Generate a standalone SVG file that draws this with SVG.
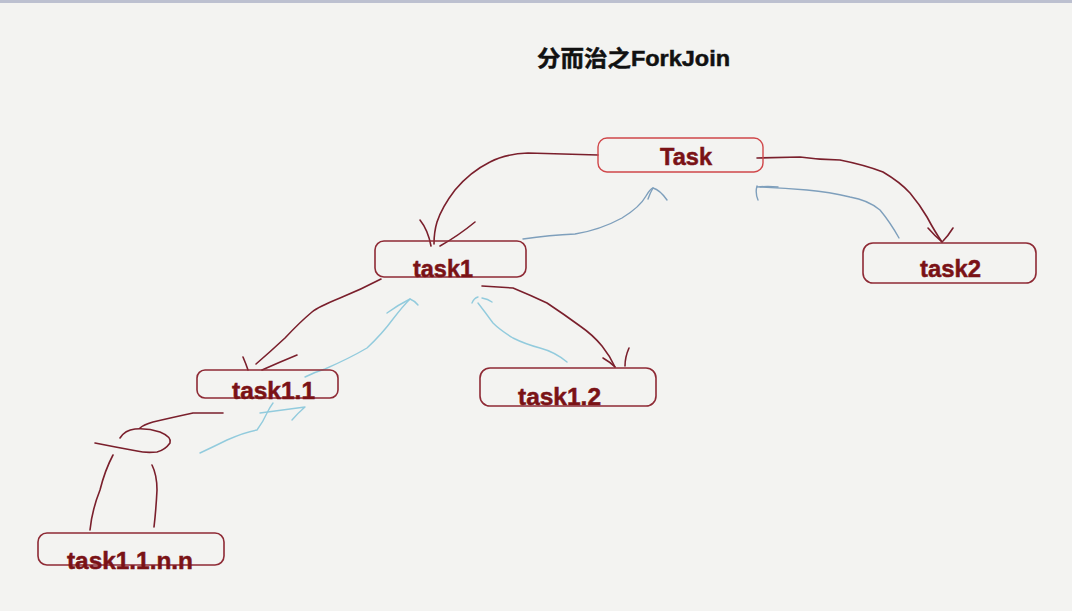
<svg xmlns="http://www.w3.org/2000/svg" width="1072" height="611" viewBox="0 0 1072 611">
<style>
.box{fill:none;stroke:#8e2a35;stroke-width:1.6}
.boxr{fill:none;stroke:#d0474a;stroke-width:1.4}
.lbl{font-family:"Liberation Sans",Arial,sans-serif;font-weight:bold;font-size:24px;fill:#7a1216;stroke:#7a1216;stroke-width:0.5}
.red{fill:none;stroke:#7a1f2c;stroke-width:1.6;stroke-linecap:round;stroke-linejoin:round}
.blu{fill:none;stroke:#7e9fbc;stroke-width:1.4;stroke-linecap:round;stroke-linejoin:round}
.cy{fill:none;stroke:#92cbdd;stroke-width:1.4;stroke-linecap:round;stroke-linejoin:round}
</style>
<rect width="1072" height="611" fill="#f3f3f1"/>
<rect width="1072" height="3" fill="#bcc0d0"/>
<text x="537" y="66" textLength="193" lengthAdjust="spacingAndGlyphs" style="font-family:'Liberation Sans','Noto Sans CJK SC',sans-serif;font-weight:bold;font-size:22px;fill:#111;stroke:#111;stroke-width:0.5">分而治之ForkJoin</text>

<g id="connectors">
<!-- Task -> task1 -->
<path class="red" d="M598,155 L528,153 Q505,154 490,162 Q470,172 455,190 Q442,207 437,222 Q434,232 434,244"/>
<path class="red" d="M420,220 Q428,230 431,246 M475,222 Q458,236 440,246"/>
<!-- task1 -> Task (blue) -->
<path class="blu" d="M523,239 Q550,235 575,234 Q600,230 622,218 Q640,207 646,196 Q650,189 653,188"/>
<path class="blu" d="M653,188 Q660,190 667,200 M653,188 Q650,193 648,199"/>
<!-- Task -> task2 -->
<path class="red" d="M757,158 L800,157 Q820,160 840,160 Q865,165 883,172 Q900,182 910,193 Q920,205 927,217 Q935,232 942,242"/>
<path class="red" d="M928,228 Q935,236 942,242 M953,228 Q948,236 943,241"/>
<!-- task2 -> Task (blue) -->
<path class="blu" d="M899,238 Q890,222 880,210 Q868,200 850,197 Q830,192 807,190 Q785,188 760,187"/>
<path class="blu" d="M757,186 Q755,193 758,200 M757,187 Q768,186 778,187"/>
<!-- task1 -> task1.1 -->
<path class="red" d="M381,279 Q360,290 340,298 Q318,307 312,312 Q300,322 285,338 Q270,352 256,364"/>
<path class="red" d="M243,357 Q246,364 248,370 M297,355 Q280,362 262,370"/>
<!-- task1.1 -> task1 (cyan) -->
<path class="cy" d="M305,377 Q315,372 325,369 Q350,358 367,348 Q382,334 393,319 Q403,306 410,299"/>
<path class="cy" d="M410,299 Q398,305 387,313 M410,299 Q415,301 418,305"/>
<!-- task1 -> task1.2 -->
<path class="red" d="M482,286 L513,288 Q530,295 547,303 Q565,315 580,326 Q593,335 602,346 Q610,356 615,367"/>
<path class="red" d="M603,358 Q610,362 615,367 M629,348 Q625,357 625,366"/>
<!-- task1.2 -> task1 (cyan) -->
<path class="cy" d="M567,362 Q555,352 540,348 Q525,344 513,338 Q500,330 493,323 Q485,312 478,303"/>
<path class="cy" d="M472,303 Q474,298 478,297 M482,298 Q488,299 492,302"/>
<!-- task1.1 -> task1.1.n.n -->
<path class="red" d="M223,413 L193,413 Q170,418 153,422 Q143,425 140,428"/>
<path class="red" d="M120,438 Q125,430 135,429 Q148,428 160,432 Q172,437 170,443 Q165,450 157,452 Q145,453 137,451 Q115,447 95,443"/>
<path class="red" d="M113,455 Q105,470 100,490 Q92,510 90,530"/>
<path class="red" d="M152,465 Q157,475 157,490 Q156,510 154,527"/>
<!-- task1.1.n.n -> task1.1 (cyan) -->
<path class="cy" d="M200,453 Q215,446 227,440 Q245,432 257,430 Q263,422 267,413 Q270,407 273,403"/>
<path class="cy" d="M260,413 Q282,410 305,407 Q298,413 292,420"/>
</g>

<g id="node-Task">
<rect class="boxr" x="598" y="138" width="165" height="34" rx="9"/>
<text class="lbl" x="686" y="165" text-anchor="middle" textLength="52" lengthAdjust="spacingAndGlyphs">Task</text>
</g>
<g id="node-task1">
<rect class="box" x="375" y="241" width="151" height="36" rx="9"/>
<text class="lbl" x="413" y="277" textLength="60" lengthAdjust="spacingAndGlyphs">task1</text>
</g>
<g id="node-task2">
<rect class="box" x="863" y="243" width="173" height="40" rx="10"/>
<text class="lbl" x="920" y="277" textLength="61" lengthAdjust="spacingAndGlyphs">task2</text>
</g>
<g id="node-task1.1">
<rect class="box" x="197" y="370" width="141" height="28" rx="8"/>
<text class="lbl" x="232" y="399" textLength="83" lengthAdjust="spacingAndGlyphs">task1.1</text>
</g>
<g id="node-task1.2">
<rect class="box" x="480" y="368" width="176" height="38" rx="10"/>
<text class="lbl" x="518" y="405" textLength="83" lengthAdjust="spacingAndGlyphs">task1.2</text>
</g>
<g id="node-task1.1.n.n">
<rect class="box" x="38" y="533" width="186" height="32" rx="9"/>
<text class="lbl" x="67" y="569" textLength="126" lengthAdjust="spacingAndGlyphs">task1.1.n.n</text>
</g>
</svg>
